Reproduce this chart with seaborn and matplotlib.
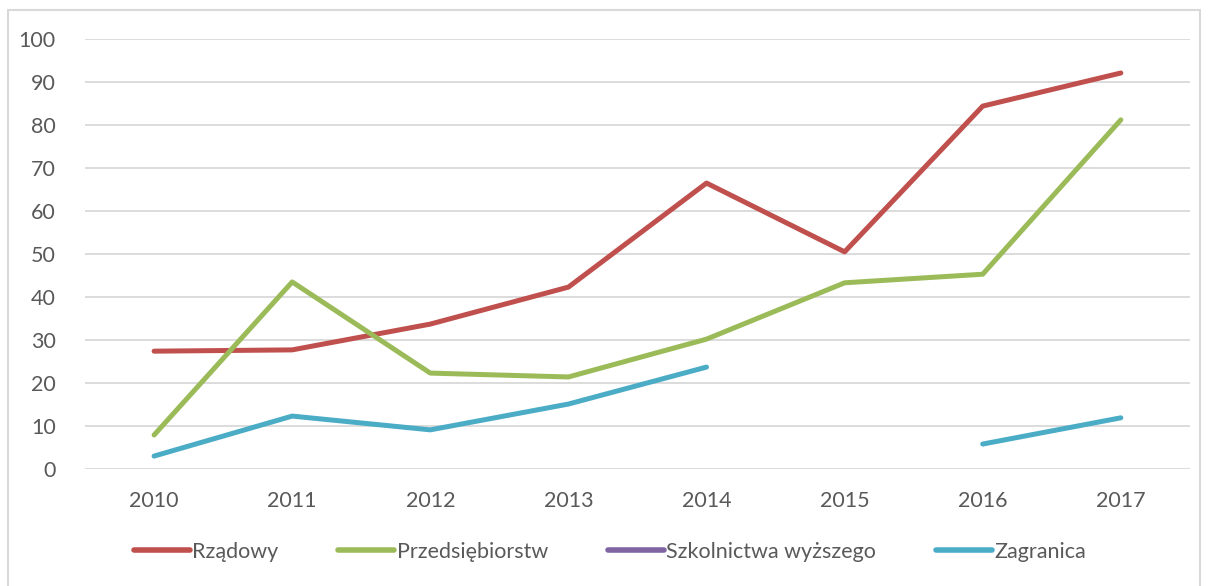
import numpy as np
import pandas as pd
import matplotlib
matplotlib.use("Agg")
import matplotlib.pyplot as plt
import seaborn as sns
from matplotlib.lines import Line2D
from matplotlib.patches import Rectangle

years = [2010, 2011, 2012, 2013, 2014, 2015, 2016, 2017]
rzadowy = [27.4, 27.7, 33.7, 42.3, 66.5, 50.5, 84.4, 92.1]
przedsiebiorstw = [7.9, 43.5, 22.3, 21.4, 30.2, 43.3, 45.3, 81.2]
szkolnictwa = [np.nan] * 8
zagranica = [3.0, 12.3, 9.1, 15.1, 23.7, np.nan, 5.8, 11.9]

series_names = ["Rządowy", "Przedsiębiorstw", "Szkolnictwa wyższego", "Zagranica"]
series_values = [rzadowy, przedsiebiorstw, szkolnictwa, zagranica]
colors = ["#C0504D", "#9BBB59", "#8064A2", "#4BACC6"]

# long form, with a segment id so that gaps (NaN) break the line
rows = []
for name, vals in zip(series_names, series_values):
    seg = 0
    for i, (yr, v) in enumerate(zip(years, vals)):
        if np.isnan(v):
            seg += 1
            continue
        rows.append({"pos": i, "value": v, "series": name, "seg": f"{name}_{seg}"})
df = pd.DataFrame(rows)

sns.set_style("white")
plt.rcParams["font.family"] = ["Lato", "DejaVu Sans"]

fig = plt.figure(figsize=(12.08, 5.86), dpi=100)
ax = fig.add_axes([0.0704, 0.1997, 0.9146, 0.7337])

palette = dict(zip(series_names, colors))
sns.lineplot(data=df, x="pos", y="value", hue="series", units="seg",
             estimator=None, palette=palette, hue_order=series_names,
             linewidth=3.6, ax=ax, legend=False, solid_capstyle="round")

ax.set_xlim(-0.5, len(years) - 0.5)
ax.set_ylim(0, 100)
ax.set_xticks(range(len(years)))
ax.set_xticklabels([str(y) for y in years])
ax.set_yticks(range(0, 101, 10))
ax.set_xlabel("")
ax.set_ylabel("")
ax.grid(axis="y", color="#D9D9D9", linewidth=1.3)
ax.set_axisbelow(True)
for s in ax.spines.values():
    s.set_visible(False)
ax.tick_params(axis="both", length=0, labelsize=15.5, labelcolor="#595959")
ax.tick_params(axis="x", pad=16)
ax.tick_params(axis="y", pad=21)

handles = [Line2D([0], [0], color=c, lw=4, solid_capstyle="round") for c in colors]
fig.legend(handles, series_names, loc="center", bbox_to_anchor=(0.505, 0.058),
           ncol=4, frameon=False, fontsize=15.5, labelcolor="#595959",
           handlelength=2.6, handletextpad=0.1, columnspacing=2.8)

fig.patches.append(Rectangle((8 / 1208, -0.05), 1192 / 1208, 1.05 - 10 / 586,
                             transform=fig.transFigure, fill=False,
                             edgecolor="#D9D9D9", linewidth=1.5))

fig.savefig("out.png", dpi=100, facecolor="white")
